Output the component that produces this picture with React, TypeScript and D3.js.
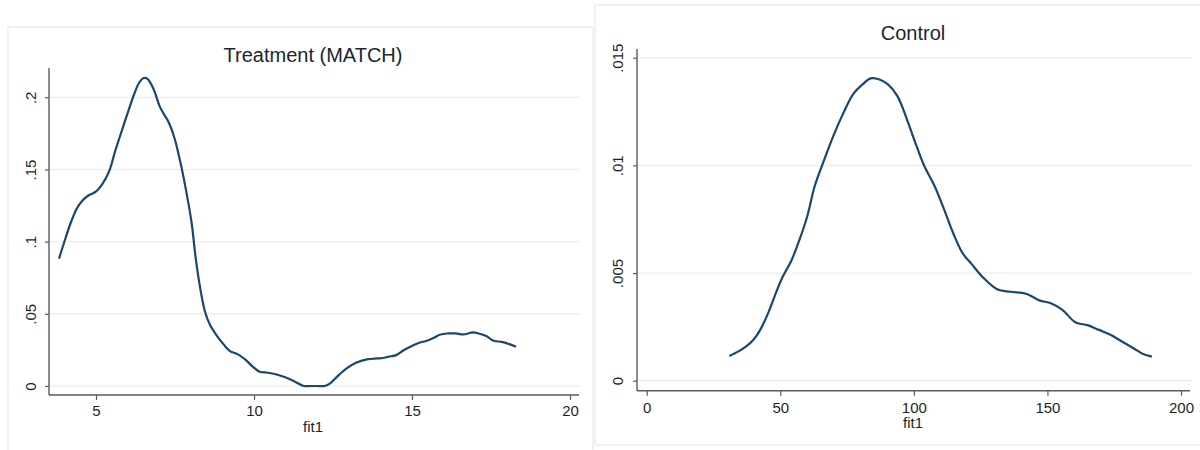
import React, { useRef, useEffect } from 'react';
import * as d3 from 'd3';

// Treatment (MATCH) kernel density
const treatX = [3.83, 4.03, 4.21, 4.39, 4.58, 4.76, 4.94, 5.06, 5.22, 5.42, 5.61, 5.82, 6.03, 6.21, 6.36, 6.51, 6.63, 6.82, 7.03, 7.3, 7.48, 7.66, 7.85, 8.03, 8.15, 8.29, 8.45, 8.61, 8.81, 9.06, 9.24, 9.48, 9.72, 9.96, 10.18, 10.45, 10.69, 10.99, 11.3, 11.57, 11.78, 12.0, 12.24, 12.41, 12.63, 12.93, 13.23, 13.57, 13.9, 14.08, 14.26, 14.5, 14.75, 14.99, 15.23, 15.47, 15.71, 15.9, 16.14, 16.38, 16.62, 16.92, 17.11, 17.35, 17.59, 17.84, 18.08, 18.29];
const treatY = [0.0882, 0.102, 0.1136, 0.1228, 0.1286, 0.132, 0.1339, 0.136, 0.1405, 0.149, 0.163, 0.177, 0.191, 0.2023, 0.2099, 0.2134, 0.2127, 0.2058, 0.193, 0.1827, 0.172, 0.156, 0.1355, 0.1124, 0.0894, 0.0687, 0.0514, 0.0422, 0.0353, 0.0283, 0.0242, 0.0221, 0.0184, 0.0134, 0.0099, 0.0092, 0.0081, 0.006, 0.003, 0, 0, 0, 0, 0.0018, 0.0065, 0.0122, 0.0161, 0.0184, 0.0191, 0.0194, 0.0203, 0.0214, 0.0249, 0.0276, 0.03, 0.0313, 0.0336, 0.0357, 0.0364, 0.0364, 0.0357, 0.0371, 0.0364, 0.0346, 0.0313, 0.0306, 0.029, 0.0272];

// Control kernel density
const controlX = [30.9, 34.2, 37.1, 39.9, 42.5, 45.7, 48.6, 50.7, 54.3, 57.2, 60.1, 62.9, 66.5, 70.1, 73.7, 77.3, 80.9, 83.8, 86.6, 90.2, 93.8, 97.4, 101.0, 103.9, 107.5, 111.1, 114.7, 118.2, 121.8, 126.1, 131.2, 136.2, 142.0, 147.0, 151.3, 155.6, 160.6, 165.0, 169.3, 173.6, 177.9, 182.2, 185.8, 189.1];
const controlY = [0.00115, 0.00135, 0.00158, 0.00189, 0.00236, 0.00321, 0.00415, 0.00477, 0.00562, 0.00655, 0.00764, 0.00904, 0.01028, 0.01144, 0.01245, 0.01331, 0.01377, 0.01404, 0.01401, 0.01377, 0.01323, 0.01214, 0.0109, 0.00997, 0.00911, 0.00803, 0.00686, 0.00593, 0.00539, 0.00477, 0.00425, 0.00413, 0.00404, 0.00373, 0.0036, 0.00329, 0.0027, 0.00258, 0.00236, 0.00213, 0.00182, 0.00151, 0.00124, 0.00112];

// axis ticks and labels
const treatXTicks = [5, 10, 15, 20];
const treatYTicks = [0, 0.05, 0.1, 0.15, 0.2];
const treatYLabels = ['0', '.05', '.1', '.15', '.2'];
const controlXTicks = [0, 50, 100, 150, 200];
const controlYTicks = [0, 0.005, 0.01, 0.015];
const controlYLabels = ['0', '.005', '.01', '.015'];

const titles = ['Treatment (MATCH)', 'Control'];
const xTitle = 'fit1';

const FONT = '"Liberation Sans", Arial, Helvetica, sans-serif';
const LINE = '#1a476f';
const AXIS = '#5a5a5a';
const GRID = '#ececec';
const TEXT = '#1f1f1f';

function drawPanel(svg, p) {
  const x = d3.scaleLinear().domain(p.xDomain).range(p.xRange);
  const y = d3.scaleLinear().domain(p.yDomain).range(p.yRange);
  const g = svg.append('g');

  // panel frame
  g.append('rect')
    .attr('x', p.frame[0]).attr('y', p.frame[1])
    .attr('width', p.frame[2]).attr('height', p.frame[3])
    .attr('fill', '#fff').attr('stroke', '#e6e6e6').attr('stroke-width', 1);

  // horizontal gridlines
  g.selectAll('.grid')
    .data(p.yTicks)
    .join('line')
    .attr('x1', p.axisLeft).attr('x2', p.gridRight)
    .attr('y1', d => y(d)).attr('y2', d => y(d))
    .attr('stroke', GRID).attr('stroke-width', 1.2);

  // y axis
  const ya = g.append('g')
    .attr('transform', `translate(${p.axisLeft},0)`)
    .call(d3.axisLeft(y).tickValues(p.yTicks).tickFormat((d, i) => p.yLabels[i]).tickSize(4));
  ya.select('.domain').remove();
  ya.selectAll('line').attr('stroke', AXIS).attr('stroke-width', 1.2);
  ya.selectAll('text')
    .attr('transform', 'rotate(-90)')
    .attr('x', 0).attr('y', -p.yLabelDist).attr('dy', '0.35em')
    .attr('text-anchor', 'middle')
    .style('font-family', FONT).style('font-size', '15px').attr('fill', TEXT);
  g.append('line')
    .attr('x1', p.axisLeft).attr('x2', p.axisLeft)
    .attr('y1', p.axisTop).attr('y2', p.axisBottom)
    .attr('stroke', AXIS).attr('stroke-width', 1.4);

  // x axis
  const xa = g.append('g')
    .attr('transform', `translate(0,${p.axisBottom})`)
    .call(d3.axisBottom(x).tickValues(p.xTicks).tickSize(5));
  xa.select('.domain').remove();
  xa.selectAll('line').attr('stroke', AXIS).attr('stroke-width', 1.2);
  xa.selectAll('text')
    .attr('y', p.xLabelDist).attr('dy', '0.35em')
    .style('font-family', FONT).style('font-size', '15px').attr('fill', TEXT);
  g.append('line')
    .attr('x1', p.axisLeft).attr('x2', p.axisRight)
    .attr('y1', p.axisBottom).attr('y2', p.axisBottom)
    .attr('stroke', AXIS).attr('stroke-width', 1.4);

  // density curve
  const line = d3.line()
    .x((d, i) => x(p.xs[i]))
    .y(d => y(d))
    .curve(d3.curveCatmullRom.alpha(0.5));
  g.append('path')
    .datum(p.ys)
    .attr('d', line)
    .attr('fill', 'none')
    .attr('stroke', LINE)
    .attr('stroke-width', 2.2)
    .attr('stroke-linejoin', 'round');

  // titles
  g.append('text')
    .attr('x', p.titleX).attr('y', p.titleY).attr('dy', '0.35em')
    .attr('text-anchor', 'middle')
    .style('font-family', FONT).style('font-size', '20px').attr('fill', '#1c2433')
    .text(p.title);
  g.append('text')
    .attr('x', p.titleX).attr('y', p.xTitleY).attr('dy', '0.35em')
    .attr('text-anchor', 'middle')
    .style('font-family', FONT).style('font-size', '15px').attr('fill', TEXT)
    .text(xTitle);
}

function App() {
  const svgRef = useRef(null);

  useEffect(() => {
    const svg = d3.select(svgRef.current);
    svg.selectAll('*').remove();
    svg.append('rect').attr('width', 1200).attr('height', 450).attr('fill', '#fff');

    drawPanel(svg, {
      frame: [8, 27, 585, 440],
      xs: treatX, ys: treatY,
      xDomain: [5, 20], xRange: [96, 570],
      yDomain: [0, 0.2], yRange: [386, 97.3],
      xTicks: treatXTicks, yTicks: treatYTicks, yLabels: treatYLabels,
      axisLeft: 49, axisRight: 579, axisTop: 68, axisBottom: 395, gridRight: 580,
      yLabelDist: 18, xLabelDist: 15.7,
      title: titles[0], titleX: 313, titleY: 55, xTitleY: 427,
    });

    drawPanel(svg, {
      frame: [595, 5, 620, 440],
      xs: controlX, ys: controlY,
      xDomain: [0, 200], xRange: [646.7, 1181],
      yDomain: [0, 0.015], yRange: [380.7, 57.7],
      xTicks: controlXTicks, yTicks: controlYTicks, yLabels: controlYLabels,
      axisLeft: 637, axisRight: 1190, axisTop: 49, axisBottom: 390.7, gridRight: 1191,
      yLabelDist: 19, xLabelDist: 16.6,
      title: titles[1], titleX: 913, titleY: 33, xTitleY: 423,
    });
  }, []);

  return (
    <svg
      ref={svgRef}
      width={1200}
      height={450}
      style={{ position: 'absolute', left: 0, top: 0, display: 'block' }}
    />
  );
}

export default App;
